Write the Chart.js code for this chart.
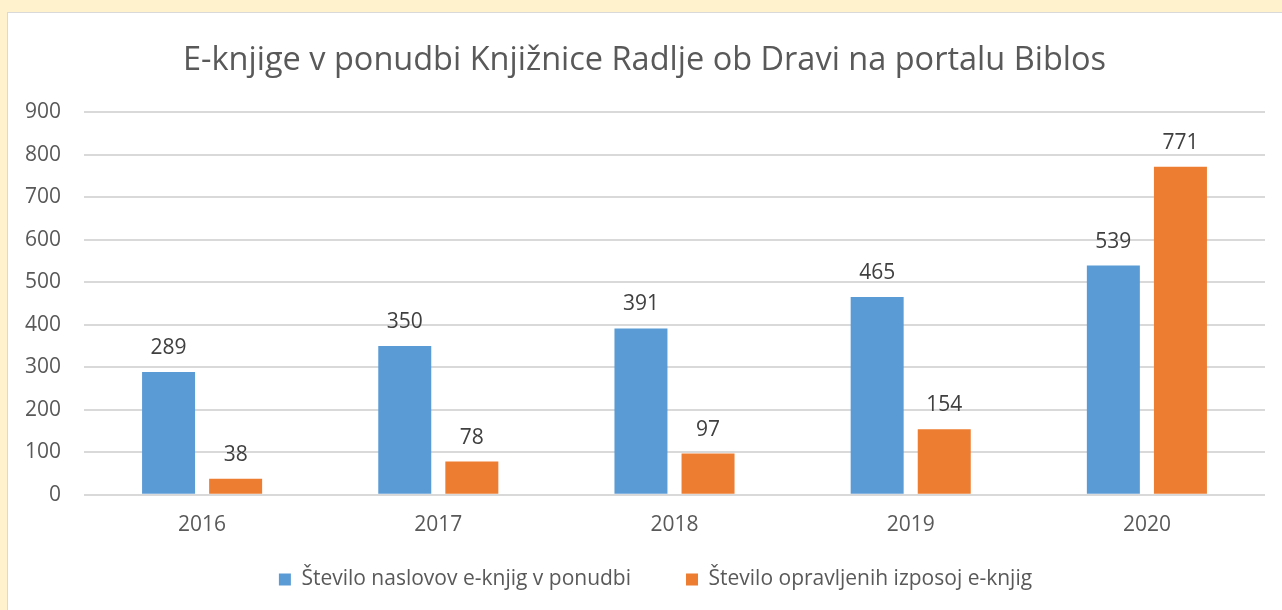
<!DOCTYPE html>
<html>
<head>
<meta charset="utf-8">
<script src="https://cdn.jsdelivr.net/npm/chart.js@4/dist/chart.umd.min.js"></script>
<style>
  html, body { margin: 0; padding: 0; background: #FFF2CC; overflow: hidden; }
  #frame {
    position: absolute; left: 7px; top: 12px; width: 1275px; height: 598px;
    background: #fff; border-left: 1px solid #D9D9D9; border-top: 1px solid #D9D9D9;
  }
</style>
</head>
<body>
<div id="frame"><canvas id="chart" width="1275" height="598"></canvas></div>
<script>
// ─────────────────────────────────────────────
//  DATA
// ─────────────────────────────────────────────
const years = ['2016', '2017', '2018', '2019', '2020'];
const titlesOffered = [289, 350, 391, 465, 539];
const loansDone = [38, 78, 97, 154, 771];
const seriesNames = ['Število naslovov e-knjig v ponudbi', 'Število opravljenih izposoj e-knjig'];

const FONT = "'Open Sans', 'DejaVu Sans', sans-serif";
const GRAY = '#595959';

// value labels above each bar
const barLabels = {
  id: 'barLabels',
  afterDatasetsDraw(chart) {
    const ctx = chart.ctx;
    ctx.save();
    ctx.font = `21px ${FONT}`;
    ctx.fillStyle = '#404040';
    ctx.textAlign = 'center';
    ctx.textBaseline = 'middle';
    chart.data.datasets.forEach((ds, i) => {
      chart.getDatasetMeta(i).data.forEach((bar, j) => {
        ctx.fillText(ds.data[j], bar.x, bar.y - 24);
      });
    });
    ctx.restore();
  }
};

// wide gap between legend items but a compact legend box, nudged right
const legendTweak = {
  id: 'legendTweak',
  afterInit(chart) {
    const legend = chart.legend;
    const fit = legend.fit;
    const drawItems = legend._draw;
    legend.fit = function () {
      fit.call(this);
      this.height -= 35;
    };
    legend._draw = function () {
      chart.ctx.save();
      chart.ctx.translate(11, -34);
      drawItems.call(this);
      chart.ctx.restore();
    };
  }
};

new Chart(document.getElementById('chart'), {
  type: 'bar',
  data: {
    labels: years,
    datasets: [
      { label: seriesNames[0], data: titlesOffered, backgroundColor: '#5B9BD5', barPercentage: 0.79, categoryPercentage: 0.568 },
      { label: seriesNames[1], data: loansDone, backgroundColor: '#ED7D31', barPercentage: 0.79, categoryPercentage: 0.568 }
    ]
  },
  options: {
    responsive: false,
    animation: false,
    layout: { padding: { left: 16, right: 18, top: 16, bottom: 12 } },
    scales: {
      x: {
        grid: { display: false },
        border: { display: false },
        ticks: { color: GRAY, font: { family: FONT, size: 21 }, padding: 10 }
      },
      y: {
        min: 0, max: 900,
        grid: { color: '#D9D9D9', lineWidth: 2, drawTicks: false },
        border: { display: false },
        ticks: { stepSize: 100, color: GRAY, font: { family: FONT, size: 21 }, padding: 23 },
        afterFit(scale) { scale.width = 60; }
      }
    },
    plugins: {
      title: {
        display: true,
        text: 'E-knjige v ponudbi Knjižnice Radlje ob Dravi na portalu Biblos',
        color: GRAY,
        font: { family: FONT, size: 32.5, weight: 'normal' },
        padding: { top: 12, bottom: 32 }
      },
      legend: {
        position: 'bottom',
        labels: { color: GRAY, font: { family: FONT, size: 21 }, boxWidth: 12, boxHeight: 12, padding: 55 }
      },
      tooltip: { enabled: false }
    }
  },
  plugins: [barLabels, legendTweak]
});
</script>
</body>
</html>
